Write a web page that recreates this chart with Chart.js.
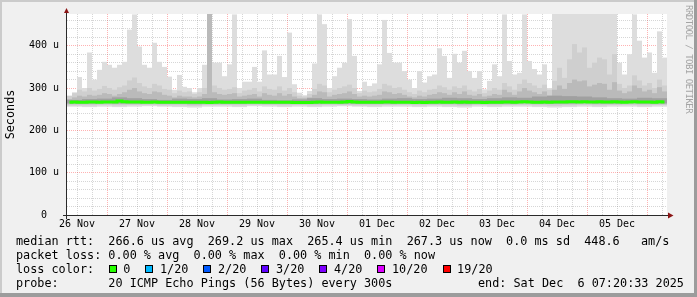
<!DOCTYPE html>
<html>
<head>
<meta charset="utf-8">
<script src="https://cdn.jsdelivr.net/npm/chart.js@4/dist/chart.umd.min.js"></script>
<style>
html, body { margin: 0; padding: 0; background: #f0f0f0; overflow: hidden; }
#wrap { position: relative; width: 697px; height: 297px; font-family: "DejaVu Sans Mono", monospace; font-size: 11.8px; color: #000; }
#smoke { position: absolute; left: 0; top: 0; }
.row { position: absolute; height: 14px; line-height: 14px; white-space: pre; }
.box { position: absolute; width: 8px; height: 8px; box-sizing: border-box; border: 1px solid #000; }
.shade { position: absolute; }
#mark { position: absolute; left: 692.6px; top: 5px; transform: rotate(90deg); transform-origin: 0 0;
        font-size: 9px; line-height: 9px; letter-spacing: -0.5px; color: #a4a4a4; white-space: pre; }
</style>
</head>
<body>
<div id="wrap">
  <canvas id="smoke" width="697" height="297"></canvas>
  <div class="shade" style="left:0;top:0;width:697px;height:2px;background:#cbcbcb"></div>
  <div class="shade" style="left:0;top:0;width:2px;height:297px;background:#cbcbcb"></div>
  <div class="shade" style="left:694px;top:0;width:3px;height:297px;background:#9c9c9c"></div>
  <div class="shade" style="left:0;top:293px;width:697px;height:4px;background:#9c9c9c"></div>
  <div id="mark">RRDTOOL / TOBI OETIKER</div>
  <div id="legend"></div>
</div>
<script>
// time axis in hours after 26 Nov 00:00, 10 days ending 6 Dec ~07:20
const START_H = 8
const END_H = 248
const dayLabels = ['26 Nov', '27 Nov', '28 Nov', '29 Nov', '30 Nov', '01 Dec', '02 Dec', '03 Dec', '04 Dec', '05 Dec']
const yLabels = ['0', '100 u', '200 u', '300 u', '400 u']

// smoke, in microseconds, one value per 2 h column (120 columns)
const maxRtt = [
    280, 290, 326, 300, 384, 320, 343, 362, 355, 348,
    355, 362, 438, 474, 398, 355, 348, 407, 362, 350,
    327, 296, 331, 303, 300, 290, 300, 355, 391, 360,
    360, 328, 356, 474, 300, 315, 315, 350, 315, 389,
    332, 332, 376, 326, 431, 309, 289, 283, 293, 358,
    474, 451, 300, 328, 348, 360, 463, 376, 293, 315,
    305, 311, 356, 461, 383, 360, 360, 340, 320, 300,
    340, 313, 328, 332, 394, 376, 324, 381, 360, 388,
    340, 324, 340, 297, 317, 356, 328, 474, 364, 332,
    336, 474, 364, 345, 332, 356, 300, 475, 475, 475,
    475, 475, 475, 475, 475, 475, 475, 475, 475, 475,
    360, 332, 380, 474, 412, 372, 384, 336, 434, 372
]
const p18Rtt = [
    282, 288, 296, 292, 300, 294, 298, 305, 300, 296,
    302, 306, 318, 325, 312, 304, 300, 310, 306, 298,
    296, 288, 294, 290, 292, 286, 290, 300, 475, 306,
    300, 296, 298, 302, 288, 294, 296, 300, 292, 304,
    298, 296, 304, 294, 300, 290, 282, 280, 286, 298,
    310, 306, 290, 296, 300, 304, 308, 300, 288, 294,
    290, 292, 298, 310, 306, 300, 302, 296, 290, 286,
    294, 290, 296, 298, 306, 302, 296, 304, 300, 306,
    296, 292, 298, 288, 294, 300, 296, 312, 304, 296,
    310, 320, 312, 306, 300, 308, 296, 317, 348, 324,
    368, 404, 384, 396, 348, 360, 372, 368, 332, 380,
    310, 300, 306, 330, 318, 306, 312, 300, 320, 306
]
const p15Rtt = [
    274, 278, 282, 280, 284, 282, 284, 288, 286, 282,
    286, 290, 296, 300, 292, 288, 286, 292, 290, 284,
    282, 278, 282, 280, 280, 278, 280, 286, 475, 290,
    286, 284, 286, 288, 280, 282, 284, 286, 280, 288,
    284, 282, 288, 282, 286, 280, 276, 276, 278, 284,
    292, 290, 280, 284, 286, 288, 292, 286, 280, 282,
    280, 282, 284, 292, 290, 286, 288, 284, 280, 278,
    282, 280, 284, 286, 290, 288, 284, 290, 286, 292,
    284, 282, 286, 280, 282, 286, 284, 296, 290, 284,
    292, 300, 294, 290, 286, 292, 282, 296, 306, 298,
    312, 320, 316, 318, 304, 308, 312, 310, 296, 314,
    294, 288, 292, 306, 300, 292, 296, 288, 302, 292
]
// inner and lower pings, one value per 6 h (40 columns)
const p13Rtt = [272, 274, 275, 278, 276, 274, 272, 275, 274, 276, 273, 274, 275, 272, 271, 273, 276, 274, 275, 274,
    273, 275, 276, 274, 275, 277, 276, 274, 276, 278, 277, 280, 282, 281, 280, 278, 276, 275, 277, 276]
const p8Rtt = [264, 264, 265, 264, 264, 265, 264, 264, 263, 264, 264, 264, 265, 264, 264, 264, 264, 265, 264, 264,
    264, 264, 265, 264, 264, 264, 263, 264, 264, 264, 265, 264, 264, 264, 265, 264, 264, 265, 264, 264]
const p6Rtt = [262, 262, 263, 262, 262, 263, 262, 262, 261, 262, 262, 262, 263, 262, 262, 262, 262, 263, 262, 262,
    262, 262, 263, 262, 262, 262, 261, 262, 262, 262, 263, 262, 262, 262, 263, 262, 262, 263, 262, 262]
const p3Rtt = [259, 259, 260, 259, 260, 260, 259, 259, 258, 260, 260, 259, 260, 260, 259, 260, 259, 260, 260, 259,
    259, 260, 260, 259, 260, 259, 258, 260, 259, 260, 260, 259, 258, 259, 260, 259, 260, 260, 259, 260]
const minRtt = [256, 255, 256, 255, 256, 257, 256, 255, 254, 256, 256, 255, 257, 256, 255, 256, 255, 256, 257, 256,
    255, 256, 256, 255, 256, 255, 254, 256, 255, 256, 256, 255, 254, 255, 256, 255, 256, 256, 255, 256]

// median rtt per 2 h column
const medianRtt = [
    266.5, 266.8, 266.4, 266.6, 267.0, 266.8, 266.5, 266.9, 267.2, 267.0,
    269.2, 267.4, 266.8, 267.0, 267.3, 266.6, 266.4, 266.8, 266.5, 266.7,
    266.4, 266.2, 266.5, 266.3, 266.6, 266.4, 266.2, 266.5, 266.0, 266.6,
    266.8, 266.5, 266.3, 266.6, 266.4, 266.2, 266.5, 266.7, 266.3, 266.5,
    266.4, 266.2, 266.6, 266.3, 266.5, 266.1, 265.8, 265.6, 266.0, 266.4,
    266.8, 266.6, 266.2, 266.5, 266.7, 267.0, 268.4, 267.2, 266.6, 266.4,
    266.5, 266.3, 266.6, 267.0, 266.8, 266.5, 266.7, 266.4, 266.2, 265.9,
    266.3, 266.0, 266.4, 266.6, 266.9, 266.7, 266.4, 266.8, 266.5, 266.9,
    266.5, 266.3, 266.6, 266.0, 266.2, 266.6, 266.4, 267.2, 266.9, 266.5,
    266.8, 267.4, 267.0, 266.7, 266.5, 266.8, 266.2, 266.9, 267.2, 267.0,
    267.4, 267.6, 267.2, 267.5, 267.0, 267.3, 267.4, 267.1, 266.8, 267.4,
    266.9, 266.6, 267.0, 267.8, 267.2, 266.8, 267.0, 266.6, 267.4, 267.3
]

// legend texts
const rttStats = ['266.6 us avg', '269.2 us max', '265.4 us min', '267.3 us now', '0.0 ms sd', '448.6   am/s']
const lossStats = ['0.00 % avg', '0.00 % max', '0.00 % min', '0.00 % now']
const lossLabels = ['0', '1/20', '2/20', '3/20', '4/20', '10/20', '19/20']
const lossColors = ['#26ff00', '#00b8ff', '#0059ff', '#5e00ff', '#7e00ff', '#dd00ff', '#ff0000']
const probeText = '20 ICMP Echo Pings (56 Bytes) every 300s'
const endText = 'end: Sat Dec  6 07:20:33 2025'

const MONO = '"DejaVu Sans Mono", monospace'
const PLOT_W = 600
const MAJOR = 'rgba(255, 0, 0, 0.3)'
const MINOR = 'rgba(120, 120, 120, 0.3)'

function columns(n){
    const w = (END_H - START_H) / n
    return Array.from({length: n}, (_, i) => START_H + w * (i + 0.5))
}

function bandData(lo, hi){
    const n = Math.max(lo.length, hi.length)
    return columns(n).map((x, i) => ({
        x: x,
        y: [lo[Math.floor(i * lo.length / n)], hi[Math.floor(i * hi.length / n)]]
    }))
}

function band(lo, hi, color, order){
    const n = Math.max(lo.length, hi.length)
    return {
        type: 'bar',
        data: bandData(lo, hi),
        backgroundColor: color,
        borderWidth: 0,
        inflateAmount: 0,
        grouped: false,
        barThickness: PLOT_W / n,
        order: order
    }
}

const tickHours = []
for (let h = Math.ceil(START_H / 6) * 6; h < END_H; h += 6) tickHours.push(h)
const yTicks = []
for (let v = 0; v < 475; v += 20) yTicks.push(v)

const canvasBg = {
    id: 'canvasBg',
    beforeDraw(chart){
        const {ctx, chartArea: a} = chart
        ctx.save()
        ctx.fillStyle = '#ffffff'
        ctx.fillRect(a.left, a.top, a.width, a.height)
        ctx.restore()
    }
}

const axisArrows = {
    id: 'axisArrows',
    afterDraw(chart){
        const {ctx, chartArea: a} = chart
        ctx.save()
        ctx.strokeStyle = '#2a2a2a'
        ctx.lineWidth = 1
        ctx.beginPath()
        ctx.moveTo(a.left - 4, a.bottom + 0.5)
        ctx.lineTo(a.right + 1, a.bottom + 0.5)
        ctx.moveTo(a.left - 0.5, a.bottom + 4)
        ctx.lineTo(a.left - 0.5, a.top - 1)
        ctx.stroke()
        ctx.fillStyle = '#8b1515'
        ctx.beginPath()
        ctx.moveTo(a.left - 3, a.top - 1)
        ctx.lineTo(a.left + 2, a.top - 1)
        ctx.lineTo(a.left - 0.5, a.top - 6)
        ctx.closePath()
        ctx.fill()
        ctx.beginPath()
        ctx.moveTo(a.right + 1, a.bottom - 2.5)
        ctx.lineTo(a.right + 1, a.bottom + 3.5)
        ctx.lineTo(a.right + 6.5, a.bottom + 0.5)
        ctx.closePath()
        ctx.fill()
        ctx.restore()
    }
}

const grafica = new Chart(document.getElementById('smoke'), {
    type: 'bar',
    data: {
        datasets: [
            {
                type: 'line',
                data: columns(medianRtt.length).map((x, i) => ({x: x, y: medianRtt[i]})),
                borderColor: '#26ff00',
                borderWidth: 3,
                pointRadius: 0,
                stepped: 'middle',
                order: 0
            },
            band(p8Rtt, p13Rtt, '#a0a0a0', 1),
            band(p6Rtt, p15Rtt, '#bababa', 2),
            band(p3Rtt, p18Rtt, '#cfcfcf', 3),
            band(minRtt, maxRtt, '#dddddd', 4)
        ]
    },
    options: {
        responsive: false,
        animation: false,
        devicePixelRatio: 1,
        layout: {padding: {left: 0, top: 14, right: 30, bottom: 0}},
        plugins: {legend: {display: false}, tooltip: {enabled: false}},
        scales: {
            x: {
                type: 'linear',
                min: START_H,
                max: END_H,
                offset: false,
                z: 1,
                afterBuildTicks: s => { s.ticks = tickHours.map(v => ({value: v})) },
                afterFit: s => { s.height = 82 },
                grid: {
                    color: c => (c.tick && c.tick.value % 24 === 0) ? MAJOR : MINOR,
                    lineWidth: 1,
                    drawTicks: false,
                    offset: false
                },
                border: {display: false, dash: [1, 1]},
                ticks: {
                    autoSkip: false,
                    maxRotation: 0,
                    padding: 3,
                    color: '#000',
                    font: {family: MONO, size: 10},
                    callback: v => (v % 24 === 12) ? dayLabels[(v - 12) / 24] : ''
                }
            },
            y: {
                type: 'linear',
                min: 0,
                max: 475,
                z: 1,
                afterBuildTicks: s => { s.ticks = yTicks.map(v => ({value: v})) },
                afterFit: s => { s.width = 67 },
                grid: {
                    color: c => (c.tick && c.tick.value % 100 === 0) ? MAJOR : MINOR,
                    lineWidth: 1,
                    drawTicks: false
                },
                border: {display: false, dash: [1, 1]},
                title: {
                    display: true,
                    text: 'Seconds',
                    color: '#000',
                    font: {family: MONO, size: 11.8},
                    padding: {top: 4, bottom: 0}
                },
                ticks: {
                    autoSkip: false,
                    padding: 8,
                    color: '#000',
                    font: {family: MONO, size: 10},
                    callback: v => {
                        if (v % 100 !== 0) return ''
                        const t = yLabels[v / 100]
                        return t.length < 3 ? t + '  ' : t
                    }
                }
            }
        }
    },
    plugins: [canvasBg, axisArrows]
})

// legend block under the graph
const CHAR = 7.1
const legend = document.getElementById('legend')
function addRow(text, left, top){
    const d = document.createElement('div')
    d.className = 'row'
    d.style.left = left + 'px'
    d.style.top = top + 'px'
    d.textContent = text
    legend.appendChild(d)
}
addRow('median rtt:  ' + rttStats.join('  '), 16, 234)
addRow('packet loss: ' + lossStats.join('  '), 16, 248)
addRow('loss color:', 16, 262)
let bx = 108.7
lossLabels.forEach((lab, i) => {
    const b = document.createElement('div')
    b.className = 'box'
    b.style.left = bx + 'px'
    b.style.top = '265px'
    b.style.background = lossColors[i]
    legend.appendChild(b)
    addRow(lab, bx + 14.6, 262)
    bx = bx + 14.6 + lab.length * CHAR + 15
})
addRow('probe:       ' + probeText, 16, 276)
addRow(endText, 478, 276)
</script>
</body>
</html>
